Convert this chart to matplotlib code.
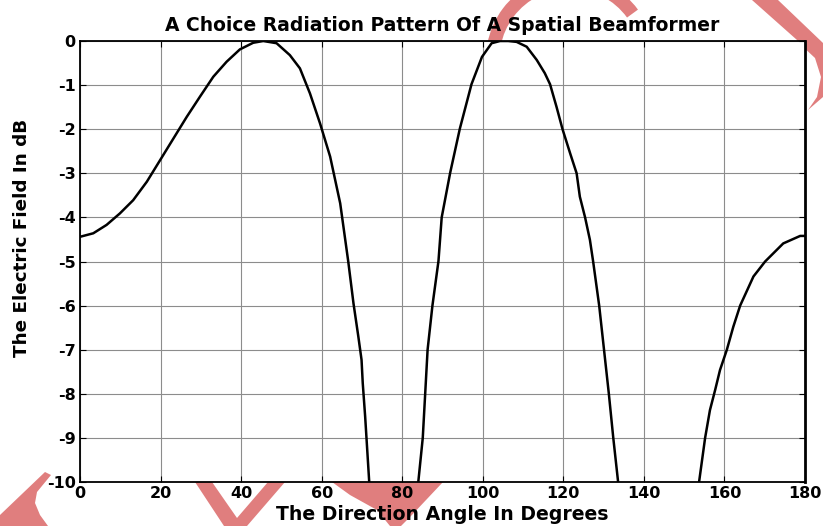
import numpy as np
import matplotlib.pyplot as plt
from matplotlib.patches import Polygon, Wedge
from matplotlib.transforms import IdentityTransform

# Radiation pattern (angle in degrees, field in dB).
# Points slightly below -10 only carry the line to the bottom edge, where it is clipped.
angle = [0, 3.3, 6.6, 9.9, 13.2, 16.6, 19.9, 23.2, 26.5, 29.8, 33.1, 36.4, 39.7,
         43.0, 45.5, 48.8, 52.1, 54.6, 57.1, 59.6, 62.1, 64.6, 66.6, 67.9, 69.1,
         69.9, 70.2, 70.8, 71.8, 72.15,
         83.45, 84.0, 85.1, 85.7, 86.3, 87.5, 89.0, 89.8, 91.9, 94.3, 97.2, 99.8,
         102.2, 104.3, 106.3, 108.4, 110.9, 113.4, 115.4, 116.7, 118.3, 119.8,
         121.7, 123.3, 124.1, 125.4, 126.6, 127.4, 128.9, 130.1, 131.3, 132.4,
         133.6, 134.2,
         152.95, 153.7, 155.2, 156.4, 157.7, 158.9, 160.6, 162.2, 163.9, 167.2,
         170.1, 174.6, 178.8, 180]
field_db = [-4.44, -4.36, -4.17, -3.91, -3.61, -3.19, -2.70, -2.21, -1.72, -1.26,
            -0.81, -0.47, -0.19, -0.04, 0.0, -0.05, -0.32, -0.62, -1.19, -1.87,
            -2.62, -3.68, -5.0, -5.95, -6.70, -7.23, -7.76, -8.52, -9.99, -10.5,
            -10.5, -9.99, -9.0, -8.0, -7.0, -6.0, -4.99, -4.0, -2.99, -1.99, -0.98,
            -0.36, -0.05, 0.0, 0.0, -0.02, -0.13, -0.43, -0.73, -0.98, -1.49, -2.0,
            -2.55, -3.0, -3.53, -4.0, -4.51, -5.0, -6.0, -7.0, -8.0, -9.0,
            -10.0, -10.5,
            -10.5, -10.0, -9.0, -8.37, -7.91, -7.46, -7.0, -6.48, -6.0, -5.34,
            -5.0, -4.59, -4.42, -4.42]

xticks = np.arange(0, 181, 20)
yticks = np.arange(-10, 1, 1)

plt.rcParams['font.family'] = ['DejaVu Sans']
plt.rcParams['font.weight'] = 'bold'
plt.rcParams['axes.unicode_minus'] = False

W, H = 823, 526
fig = plt.figure(figsize=(W / 100, H / 100), dpi=100)
ax = fig.add_axes([80 / W, 1 - 482 / H, (805 - 80) / W, (482 - 41) / H])

# pink watermark pieces sitting behind the axes (pixel coords, y from top)
wm = '#E07E7E'
pieces = [
    [(0, 515), (45, 472), (51, 475), (37, 492), (35, 503), (40, 515), (48, 526), (0, 526)],
    [(195, 482), (212, 482), (237, 518), (268, 482), (285, 482), (247, 526), (224, 526)],
    [(332, 482), (443, 482), (410, 517), (401, 526), (390, 526), (377, 510), (350, 495)],
    [(752, 0), (778, 0), (823, 43), (823, 97), (808, 110), (817, 97), (821, 77),
     (815, 58), (800, 44), (797, 40)],
]
for p in pieces:
    fig.add_artist(Polygon([(x, H - y) for x, y in p], closed=True, fc=wm, ec='none',
                           transform=IdentityTransform(), zorder=-5))
fig.add_artist(Wedge((570, H - 59), 84, 36, 250, width=13.5, fc=wm, ec='none',
                     transform=IdentityTransform(), zorder=-5))

ax.plot(angle, field_db, color='black', lw=1.8)

ax.set_xlim(0, 180)
ax.set_ylim(-10, 0)
ax.set_xticks(xticks)
ax.set_yticks(yticks)
ax.grid(True, color='0.55', lw=0.8)
ax.tick_params(direction='in', top=True, right=True, length=4, width=0.8,
               labelsize=11.5, pad=3)
for s in ax.spines.values():
    s.set_linewidth(1.3)
ax.spines['right'].set_linewidth(2)

ax.set_title('A Choice Radiation Pattern Of A Spatial Beamformer', fontsize=13.5,
             fontweight='bold', pad=7)
ax.set_xlabel('The Direction Angle In Degrees', fontsize=13.6, fontweight='bold', labelpad=3)
ax.set_ylabel('The Electric Field In dB', fontsize=13.2, fontweight='bold')
ax.yaxis.set_label_coords(-0.068, 0.553)

fig.savefig('out.png', dpi=100)
